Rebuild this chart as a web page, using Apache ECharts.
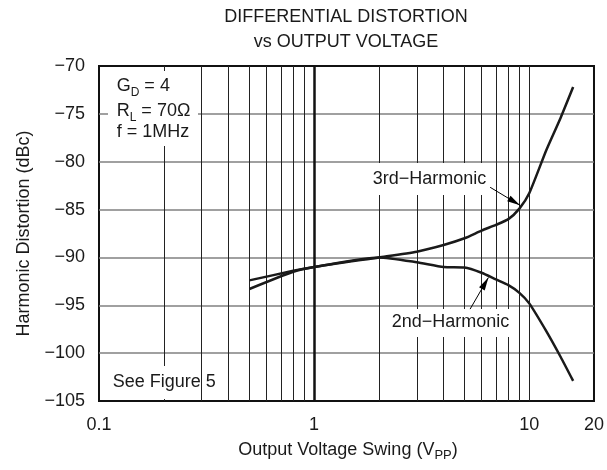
<!DOCTYPE html>
<html><head><meta charset="utf-8">
<script src="https://cdn.jsdelivr.net/npm/echarts@6/dist/echarts.min.js"></script>
<style>html,body{margin:0;padding:0;background:#fff}#c{width:607px;height:470px}</style>
</head><body><div id="c"></div>
<script>
// ---- data ----
const xTickValues = [0.1, 1, 10, 20];
const minorGridX = [0.2, 0.3, 0.4, 0.5, 0.6, 0.7, 0.8, 0.9, 2, 3, 4, 5, 6, 7, 8, 9, 10];
const majorGridX = [1];
const hd3X = [0.5, 0.8, 1, 2, 3, 4, 5, 6, 7, 8, 9, 10, 12, 14, 16];
const hd3Y = [-93.3, -91.5, -91.0, -90.0, -89.4, -88.7, -88.0, -87.2, -86.6, -86.0, -84.9, -83.3, -78.8, -75.4, -72.2];
const hd2X = [0.5, 0.8, 1, 2, 3, 4, 5, 6, 7, 8, 9, 10, 12, 14, 16];
const hd2Y = [-92.4, -91.4, -91.0, -90.0, -90.5, -91.0, -91.05, -91.6, -92.3, -92.9, -93.7, -94.8, -97.7, -100.4, -102.9];
const arrow3 = [[6.58, -82.67], [9.06, -84.55]];
const arrow2 = [[5.31, -95.4], [6.46, -92.1]];
const seriesNames = ['3rd\u2212Harmonic', '2nd\u2212Harmonic'];

// ---- text helpers ----
const FONT = '"Liberation Sans", Arial, sans-serif';
const TXT = '#1a1a1a';
const mctx = document.createElement('canvas').getContext('2d');
function tw(t, size) { mctx.font = size + 'px ' + FONT; return mctx.measureText(t).width; }
function pieces(x, y, parts, align, z) {
  const total = parts.reduce((s, p) => s + tw(p[0], p[1]), 0);
  let cx = align === 'center' ? x - total / 2 : x;
  const out = [];
  parts.forEach(p => {
    out.push({ type: 'text', x: cx, y: y + p[2], z: z || 51, silent: true,
      style: { text: p[0], font: p[1] + 'px ' + FONT, fill: TXT, align: 'left', verticalAlign: 'middle' } });
    cx += tw(p[0], p[1]);
  });
  return out;
}
function box(x, y, w, h) {
  return { type: 'rect', z: 50, silent: true, shape: { x: x, y: y, width: w, height: h }, style: { fill: '#fff' } };
}

const graphics = [].concat(
  pieces(346, 16.7, [['DIFFERENTIAL DISTORTION', 18, 0]], 'center'),
  pieces(346, 41.7, [['vs OUTPUT VOLTAGE', 18, 0]], 'center'),
  [box(108, 71, 90, 75)],
  pieces(116.7, 86.3, [['G', 18, 0], ['D', 12, 6], [' = 4', 18, 0]]),
  pieces(116.7, 111.3, [['R', 18, 0], ['L', 12, 6], [' = 70\u03A9', 18, 0]]),
  pieces(116.7, 131.7, [['f = 1MHz', 18, 0]]),
  [box(108, 366, 90, 33)],
  pieces(112.7, 381.7, [['See Figure 5', 18, 0]]),
  [box(370, 163, 121, 32)],
  pieces(372.7, 179.3, [[seriesNames[0], 18, 0]]),
  [box(388, 309, 131, 28)],
  pieces(391.7, 321.7, [[seriesNames[1], 18, 0]]),
  pieces(348, 450, [['Output Voltage Swing (V', 18, 0], ['PP', 13, 5], [')', 18, 0]], 'center')
);

// arrow head: apex sits at the centre of the symbol box so the tip lands on the end point
const ARROW_HEAD = 'path://M3 0 M3 12 L6 24 L0 24 Z';
const chart = echarts.init(document.getElementById('c'), null, { renderer: 'canvas' });
const arrowStyle = {
  silent: true, z: 60,
  symbol: ['none', ARROW_HEAD],
  symbolSize: 26,
  symbolKeepAspect: true,
  lineStyle: { color: '#000', width: 1, type: 'solid' },
  itemStyle: { color: '#000' },
  label: { show: false }
};
chart.setOption({
  animation: false,
  backgroundColor: '#fff',
  grid: { left: 99, right: 11, top: 66, bottom: 69, show: true, borderColor: '#111', borderWidth: 2, backgroundColor: 'transparent' },
  xAxis: {
    type: 'log', logBase: 10, min: 0.1, max: 20,
    axisLine: { show: false }, axisTick: { show: false },
    splitLine: { show: false }, minorSplitLine: { show: false },
    axisLabel: {
      margin: 15, color: TXT, fontSize: 18, fontFamily: FONT,
      formatter: v => { const r = Math.round(v * 100) / 100; return xTickValues.indexOf(r) >= 0 ? String(r) : ''; }
    }
  },
  yAxis: {
    type: 'value', min: -105, max: -70, interval: 5,
    name: 'Harmonic Distortion (dBc)', nameLocation: 'middle', nameGap: 66,
    nameTextStyle: { color: TXT, fontSize: 18, fontFamily: FONT },
    axisLine: { show: false }, axisTick: { show: false },
    splitLine: { show: true, showMinLine: false, showMaxLine: false, lineStyle: { color: '#808080', width: 1.5 } },
    axisLabel: { margin: 14, color: TXT, fontSize: 18, fontFamily: FONT,
      formatter: v => (v < 0 ? '\u2212' : '') + Math.abs(v) }
  },
  series: [
    { type: 'line', name: 'grid', data: [], z: 1, silent: true,
      markLine: { silent: true, z: 1, symbol: ['none', 'none'], label: { show: false },
        data: minorGridX.map(v => ({ xAxis: v, lineStyle: { color: '#222', width: 1, type: 'solid' } }))
          .concat(majorGridX.map(v => ({ xAxis: v, lineStyle: { color: '#111', width: 2.5, type: 'solid' } }))) } },
    { type: 'line', name: seriesNames[0], z: 3, showSymbol: false, symbol: 'none', smooth: 0.2,
      lineStyle: { color: '#1a1a1a', width: 2.5 },
      data: hd3X.map((x, i) => [x, hd3Y[i]]),
      markLine: Object.assign({}, arrowStyle, { data: [[{ coord: arrow3[0] }, { coord: arrow3[1] }]] }) },
    { type: 'line', name: seriesNames[1], z: 3, showSymbol: false, symbol: 'none', smooth: 0.2,
      lineStyle: { color: '#1a1a1a', width: 2.5 },
      data: hd2X.map((x, i) => [x, hd2Y[i]]),
      markLine: Object.assign({}, arrowStyle, { data: [[{ coord: arrow2[0] }, { coord: arrow2[1] }]] }) }
  ],
  graphic: { elements: graphics }
});
</script></body></html>
